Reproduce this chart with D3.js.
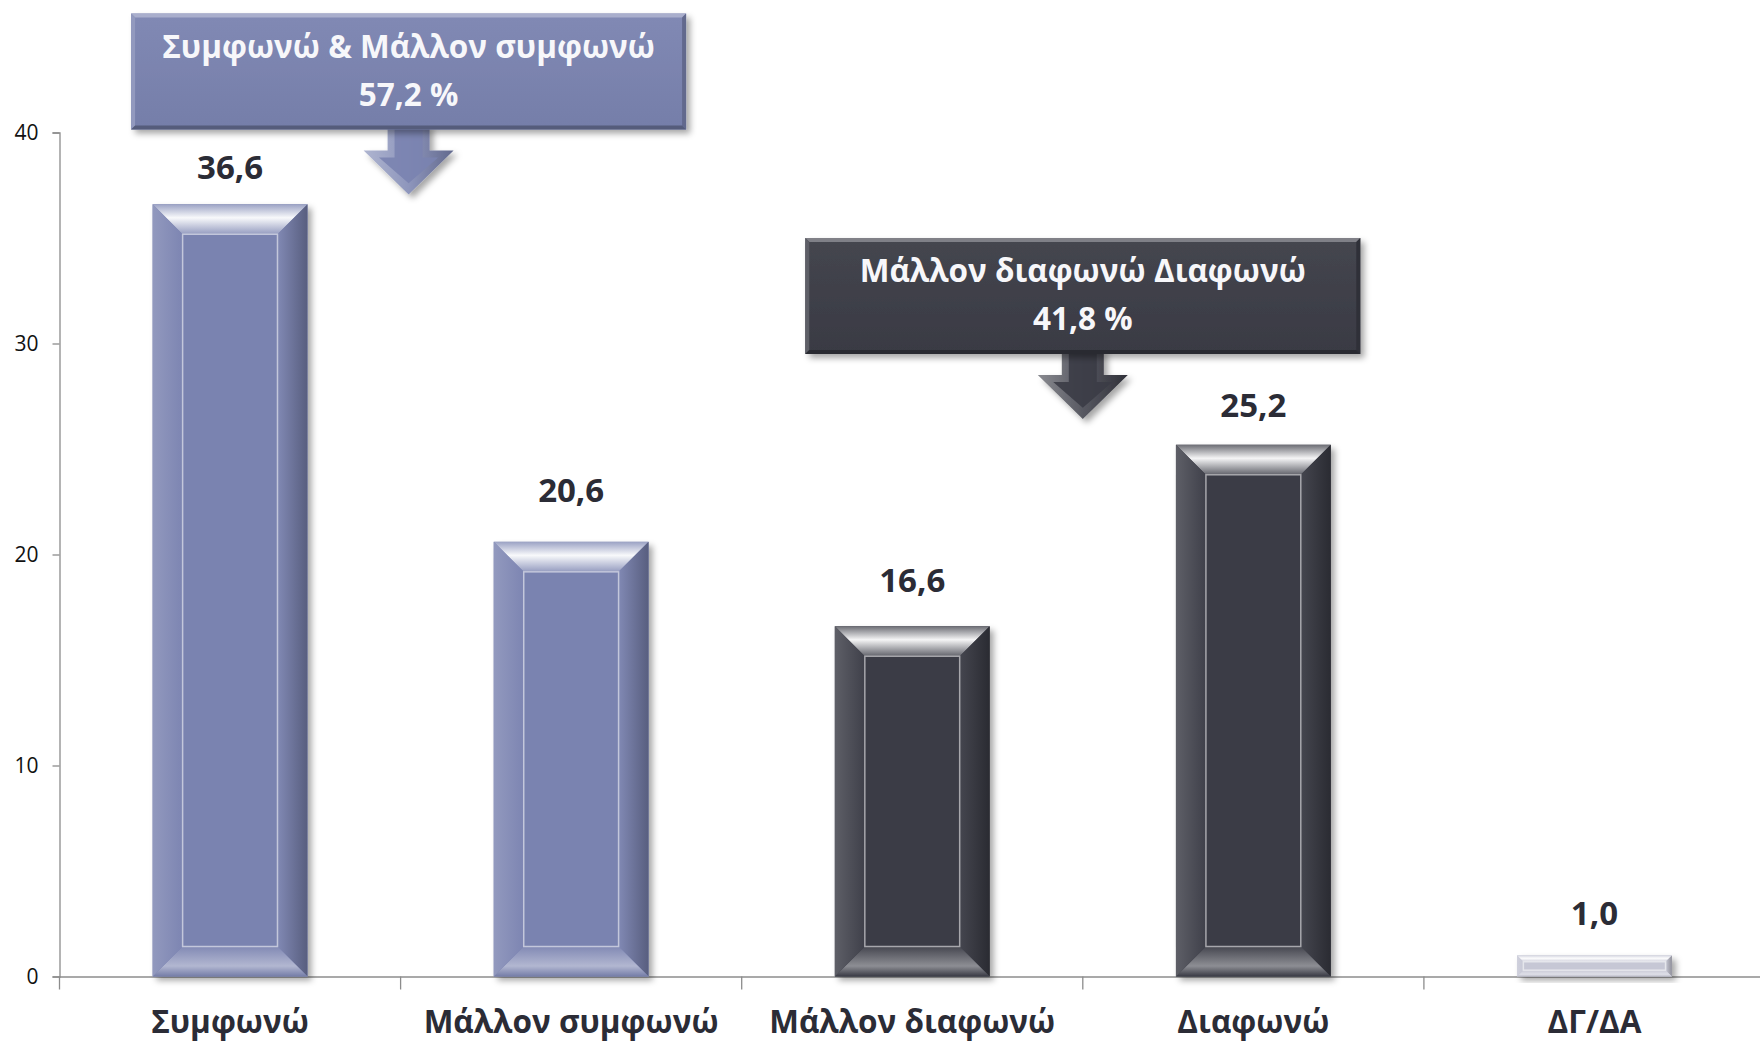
<!DOCTYPE html>
<html><head><meta charset="utf-8">
<script src="https://cdn.jsdelivr.net/npm/d3@7"></script>
<style>
html,body{margin:0;padding:0;background:#fff;}
svg{display:block;}
text{font-family:"Open Sans","Noto Sans",sans-serif;}
</style></head>
<body>
<svg id="chart" width="1760" height="1042"></svg>
<script>
// ---- data ----
const categories = ["Συμφωνώ", "Μάλλον συμφωνώ", "Μάλλον διαφωνώ", "Διαφωνώ", "ΔΓ/ΔΑ"];
const values = [36.6, 20.6, 16.6, 25.2, 1.0];
const groups = ["agree", "agree", "disagree", "disagree", "dk"];
const yTicks = [0, 10, 20, 30, 40];
const calloutTitles = ["Συμφωνώ & Μάλλον συμφωνώ", "Μάλλον διαφωνώ Διαφωνώ"];
const calloutValues = ["57,2 %", "41,8 %"];
const calloutGroups = ["agree", "disagree"];
const calloutSpans = [[0, 1], [2, 3]];

// ---- layout / styles ----
const groupColor = { agree: "#7a83b0", disagree: "#3b3c46", dk: "#c6c7d5" };
const labelGap = [25, 40, 34, 28, 30];
const calloutShift = [8, 0];
const boxTops = [13.5, 238];
const fmt = v => d3.format(".1f")(v).replace(".", ",");

const svg = d3.select("#chart");
const defs = svg.append("defs");

const x = d3.scaleBand().domain(categories).range([59.5, 1765]).paddingInner(0.546).paddingOuter(0.273);
const y = d3.scaleLinear().domain([0, 40]).range([976.5, 132.5]);
const step = x.step();

const sh = defs.append("filter").attr("id", "shadow").attr("x", "-20%").attr("y", "-20%").attr("width", "150%").attr("height", "150%");
sh.append("feDropShadow").attr("dx", 4).attr("dy", 4).attr("stdDeviation", 3).attr("flood-color", "#000").attr("flood-opacity", 0.35);

const mixW = (c, t) => d3.interpolateRgb(c, "#ffffff")(t);
const mixB = (c, t) => d3.interpolateRgb(c, "#000000")(t);

function grad(id, vertical, stops) {
  const g = defs.append("linearGradient").attr("id", id)
    .attr("x1", 0).attr("y1", 0).attr("x2", vertical ? 0 : 1).attr("y2", vertical ? 1 : 0);
  stops.forEach(s => g.append("stop").attr("offset", s[0]).attr("stop-color", s[1]));
}
Object.entries(groupColor).forEach(([g, c]) => {
  grad(`top-${g}`, true, [[0, mixW(c, 0.25)], [0.45, mixW(c, 0.95)], [1, mixW(c, 0.2)]]);
  grad(`left-${g}`, false, [[0, mixW(c, 0.18)], [1, mixW(c, 0.02)]]);
  grad(`right-${g}`, false, [[0, mixW(c, 0.05)], [1, mixB(c, 0.28)]]);
  grad(`bottom-${g}`, true, [[0, mixW(c, 0.05)], [0.65, mixW(c, 0.42)], [1, mixB(c, 0.05)]]);
  grad(`arrow-${g}`, false, [[0, mixW(c, 0.4)], [0.5, mixW(c, 0.15)], [1, mixB(c, 0.2)]]);
  grad(`box-${g}`, true, [[0, mixW(c, 0.05)], [1, mixB(c, 0.04)]]);
});

// ---- axes ----
const axisColor = "#8c8c8c";
const yAxis = svg.append("g").attr("transform", `translate(${x.range()[0]},0)`)
  .call(d3.axisLeft(y).tickValues(yTicks).tickSize(7).tickPadding(14));
yAxis.select(".domain").attr("stroke", axisColor).attr("stroke-width", 1.3);
yAxis.selectAll(".tick line").attr("stroke", axisColor).attr("stroke-width", 1.3);
yAxis.selectAll(".tick text").attr("font-size", 21).attr("fill", "#111");

const xAxis = svg.append("g").attr("transform", `translate(0,${y(0)})`)
  .call(d3.axisBottom(x).tickSize(0).tickPadding(34));
xAxis.select(".domain").attr("stroke", axisColor).attr("stroke-width", 1.3);
xAxis.selectAll(".tick text").attr("font-size", 31.5).attr("font-weight", 700).attr("fill", "#2b2c36");
const bounds = d3.range(categories.length + 1).map(i => x.range()[0] + i * step);
svg.append("g").selectAll("line").data(bounds).join("line")
  .attr("x1", d => d).attr("x2", d => d).attr("y1", y(0)).attr("y2", y(0) + 13)
  .attr("stroke", axisColor).attr("stroke-width", 1.3);

// ---- bars ----
const barG = svg.append("g");
const P = pts => pts.map(p => p.join(",")).join(" ");
categories.forEach((cat, i) => {
  const g = groups[i], c = groupColor[g];
  const x0 = x(cat), x1 = x0 + x.bandwidth(), y0 = y(values[i]), y1 = y(0);
  const h = y1 - y0;
  const b = Math.min(30, h * 0.3);
  const bar = barG.append("g");
  bar.append("rect").attr("x", x0).attr("y", y0).attr("width", x1 - x0).attr("height", h)
    .attr("fill", c).attr("filter", "url(#shadow)");
  bar.append("polygon").attr("points", P([[x0, y0], [x1, y0], [x1 - b, y0 + b], [x0 + b, y0 + b]])).attr("fill", `url(#top-${g})`);
  bar.append("polygon").attr("points", P([[x1, y0], [x1, y1], [x1 - b, y1 - b], [x1 - b, y0 + b]])).attr("fill", `url(#right-${g})`);
  bar.append("polygon").attr("points", P([[x0, y1], [x1, y1], [x1 - b, y1 - b], [x0 + b, y1 - b]])).attr("fill", `url(#bottom-${g})`);
  bar.append("polygon").attr("points", P([[x0, y0], [x0 + b, y0 + b], [x0 + b, y1 - b], [x0, y1]])).attr("fill", `url(#left-${g})`);
  bar.append("rect").attr("x", x0 + b).attr("y", y0 + b).attr("width", Math.max(0, x1 - x0 - 2 * b)).attr("height", Math.max(0, h - 2 * b))
    .attr("fill", c).attr("stroke", mixW(c, 0.55)).attr("stroke-width", 1.5);
  svg.append("text").attr("x", x0 + x.bandwidth() / 2).attr("y", y0 - labelGap[i])
    .attr("text-anchor", "middle").attr("font-size", 33).attr("font-weight", 700).attr("fill", "#2b2c36")
    .text(fmt(values[i]));
});

// ---- callouts ----
const boxW = 555, boxH = 116, stemW = 42, headW = 90, stemL = 21, headL = 44;
calloutTitles.forEach((t, k) => {
  const g = calloutGroups[k], c = groupColor[g];
  const [a, bIdx] = calloutSpans[k];
  const cx = (x(categories[a]) + x.bandwidth() + x(categories[bIdx])) / 2 + calloutShift[k];
  const top = boxTops[k], bot = top + boxH;
  const cg = svg.append("g");
  const arrowPts = [[cx - stemW / 2, bot - 5], [cx + stemW / 2, bot - 5], [cx + stemW / 2, bot + stemL], [cx + headW / 2, bot + stemL],
    [cx, bot + stemL + headL], [cx - headW / 2, bot + stemL], [cx - stemW / 2, bot + stemL]];
  cg.append("polygon").attr("points", P(arrowPts)).attr("fill", `url(#arrow-${g})`).attr("filter", "url(#shadow)");
  const ins = 7;
  const innerPts = [[cx - stemW / 2 + ins, bot - 5], [cx + stemW / 2 - ins, bot - 5], [cx + stemW / 2 - ins, bot + stemL + ins],
    [cx + headW / 2 - ins * 2.2, bot + stemL + ins], [cx, bot + stemL + headL - ins * 1.6], [cx - headW / 2 + ins * 2.2, bot + stemL + ins],
    [cx - stemW / 2 + ins, bot + stemL + ins]];
  cg.append("polygon").attr("points", P(innerPts)).attr("fill", c).attr("opacity", 0.9);
  cg.append("rect").attr("x", cx - boxW / 2).attr("y", top).attr("width", boxW).attr("height", boxH)
    .attr("fill", `url(#box-${g})`).attr("filter", "url(#shadow)");
  const e = 4, bx0 = cx - boxW / 2, bx1 = cx + boxW / 2;
  cg.append("polygon").attr("points", P([[bx0, top], [bx1, top], [bx1 - e, top + e], [bx0 + e, top + e]])).attr("fill", mixW(c, 0.35));
  cg.append("polygon").attr("points", P([[bx0, top], [bx0 + e, top + e], [bx0 + e, bot - e], [bx0, bot]])).attr("fill", mixW(c, 0.18));
  cg.append("polygon").attr("points", P([[bx1, top], [bx1, bot], [bx1 - e, bot - e], [bx1 - e, top + e]])).attr("fill", mixB(c, 0.2));
  cg.append("polygon").attr("points", P([[bx0, bot], [bx1, bot], [bx1 - e, bot - e], [bx0 + e, bot - e]])).attr("fill", mixB(c, 0.3));
  cg.append("text").attr("x", cx).attr("y", top + 44).attr("text-anchor", "middle")
    .attr("font-size", 31.5).attr("font-weight", 700).attr("fill", "#f7f7fa").text(t);
  cg.append("text").attr("x", cx).attr("y", top + 92).attr("text-anchor", "middle")
    .attr("font-size", 31.5).attr("font-weight", 700).attr("fill", "#f7f7fa").text(calloutValues[k]);
});
</script>
</body></html>
